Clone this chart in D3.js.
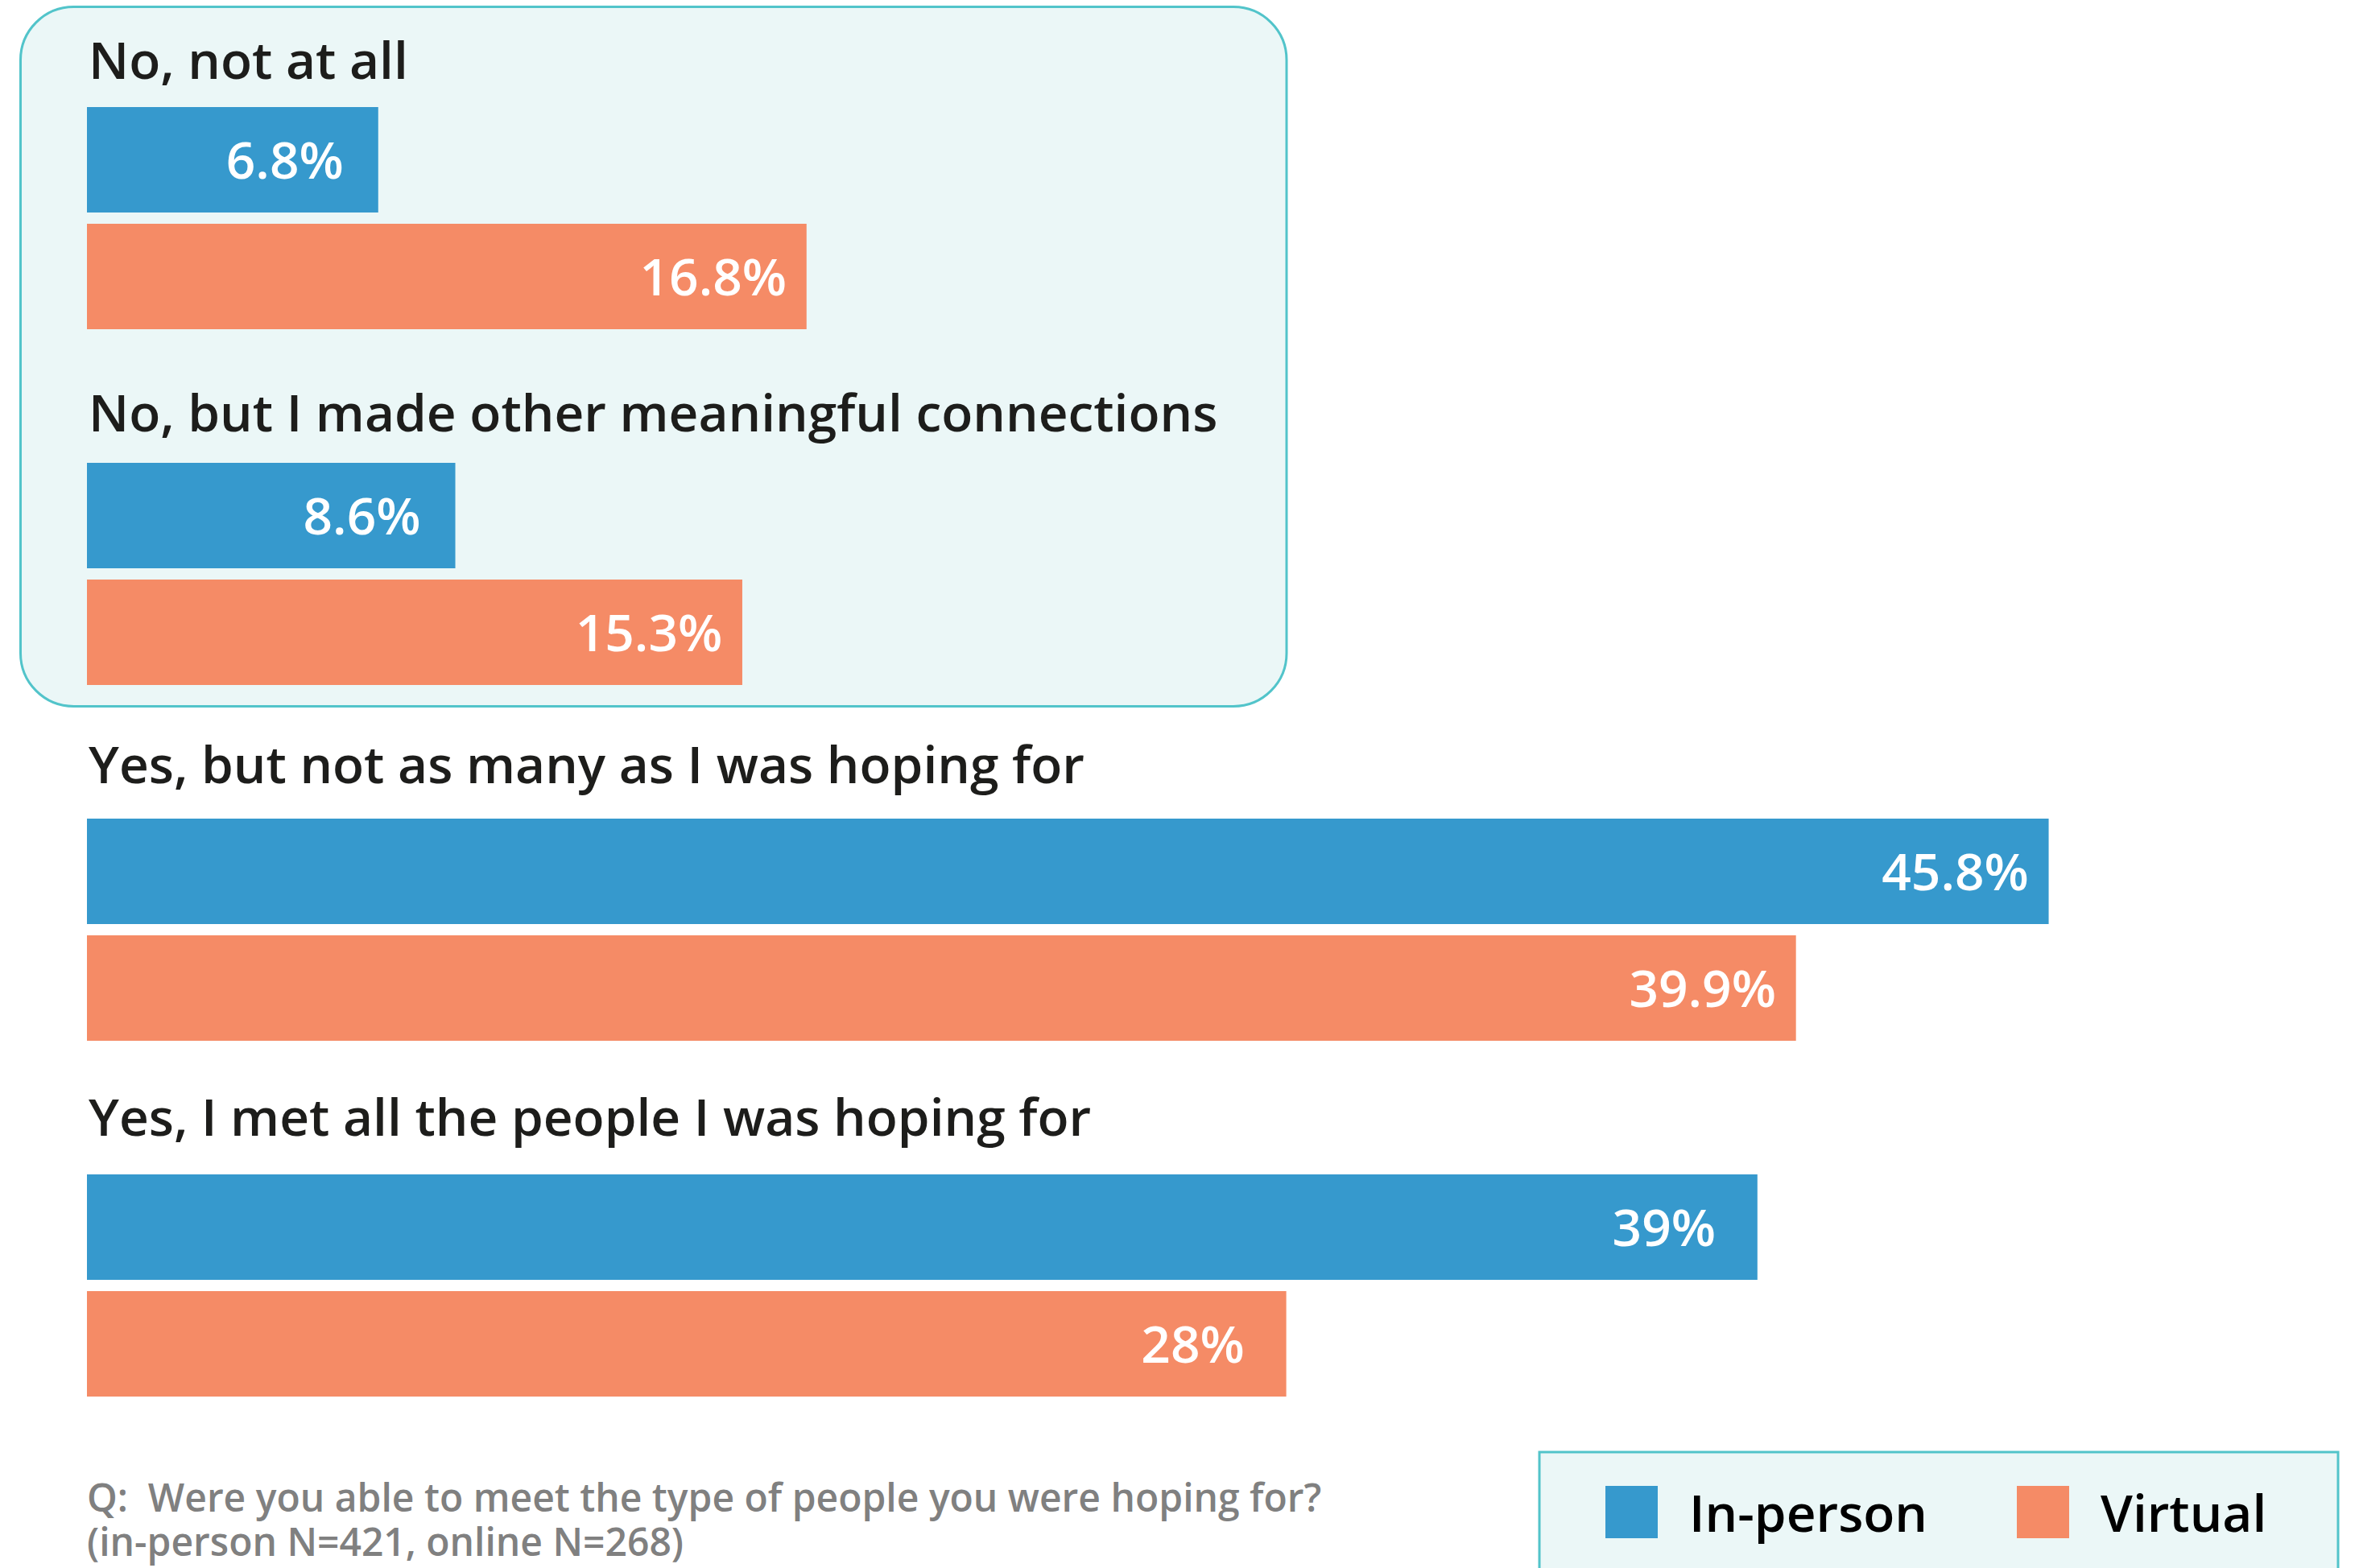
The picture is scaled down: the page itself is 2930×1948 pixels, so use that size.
<!DOCTYPE html>
<html>
<head>
<meta charset="utf-8">
<script src="https://cdn.jsdelivr.net/npm/d3@7"></script>
<style>
  html, body { margin: 0; padding: 0; background: #ffffff; }
  svg { display: block; font-family: "Open Sans", "Noto Sans", sans-serif; }
  .note { white-space: pre; }
</style>
</head>
<body>
<svg id="chart" width="2930" height="1948"></svg>
<script>
// Survey answers, one group of two bars each
const categories = [
  "No, not at all",
  "No, but I made other meaningful connections",
  "Yes, but not as many as I was hoping for",
  "Yes, I met all the people I was hoping for"
];
const seriesNames = ["In-person", "Virtual"];
const inPerson = [6.8, 8.6, 45.8, 39];
const virtual = [16.8, 15.3, 39.9, 28];
const valueLabels = {
  "In-person": ["6.8%", "8.6%", "45.8%", "39%"],
  "Virtual": ["16.8%", "15.3%", "39.9%", "28%"]
};
const footnoteLines = [
  "Q:  Were you able to meet the type of people you were hoping for?",
  "(in-person N=421, online N=268)"
];

const colors = { "In-person": "#3699cd", "Virtual": "#f58b66" };
const boxFill = "#ebf7f7";
const boxStroke = "#52c4ca";
const textDark = "#1d1d1b";

const svg = d3.select("#chart");

// scales
const x = d3.scaleLinear().domain([0, 50]).range([108, 2768]);
const y0 = d3.scaleBand().domain(categories).range([133, 133 + 442 * categories.length]).paddingInner(0).paddingOuter(0);
const y1 = d3.scaleBand().domain(seriesNames).range([0, 276]).paddingInner(14 / 145).paddingOuter(0);
const labelY = d3.scalePoint().domain(categories).range([98, 1411]);

const valuesBySeries = { "In-person": inPerson, "Virtual": virtual };

// highlight panel behind the two "No" answers
svg.append("rect")
  .attr("x", 25.5).attr("y", 8.5)
  .attr("width", 1572.5).attr("height", 869)
  .attr("rx", 66).attr("ry", 66)
  .attr("fill", boxFill)
  .attr("stroke", boxStroke)
  .attr("stroke-width", 3);

// category titles
svg.append("g").selectAll("text")
  .data(categories)
  .join("text")
  .attr("x", 110)
  .attr("y", d => labelY(d))
  .attr("fill", textDark)
  .attr("font-size", 64)
  .attr("font-weight", 600)
  .text(d => d);

// bars
const groups = svg.append("g").selectAll("g")
  .data(categories)
  .join("g")
  .attr("transform", d => `translate(0,${y0(d)})`);

const rows = groups.selectAll("g.bar")
  .data((c, i) => seriesNames.map(s => ({ series: s, value: valuesBySeries[s][i], label: valueLabels[s][i] })))
  .join("g")
  .attr("class", "bar");

rows.append("rect")
  .attr("x", x(0))
  .attr("y", d => y1(d.series))
  .attr("width", d => x(d.value) - x(0))
  .attr("height", y1.bandwidth())
  .attr("fill", d => colors[d.series]);

rows.append("text")
  .attr("x", d => x(d.value) - 116)
  .attr("y", d => y1(d.series) + y1.bandwidth() / 2 + 23)
  .attr("text-anchor", "middle")
  .attr("fill", "#ffffff")
  .attr("font-size", 64)
  .attr("font-weight", 600)
  .text(d => d.label);

// question note
svg.append("g").selectAll("text")
  .data(footnoteLines)
  .join("text")
  .attr("class", "note")
  .attr("x", 108)
  .attr("y", (d, i) => 1878 + i * 55)
  .attr("fill", "#808080")
  .attr("font-size", 48)
  .attr("font-weight", 600)
  .text(d => d);

// legend
const legend = svg.append("g");
legend.append("rect")
  .attr("x", 1912).attr("y", 1804)
  .attr("width", 992).attr("height", 200)
  .attr("fill", boxFill)
  .attr("stroke", boxStroke)
  .attr("stroke-width", 3);

const legendX = d3.scaleOrdinal().domain(seriesNames).range([1994, 2505]);
const items = legend.selectAll("g.item")
  .data(seriesNames)
  .join("g")
  .attr("class", "item")
  .attr("transform", d => `translate(${legendX(d)},1846)`);
items.append("rect")
  .attr("width", 65).attr("height", 65)
  .attr("fill", d => colors[d]);
items.append("text")
  .attr("x", 104)
  .attr("y", 57)
  .attr("fill", "#000000")
  .attr("font-size", 64)
  .attr("font-weight", 600)
  .text(d => d);
</script>
</body>
</html>
